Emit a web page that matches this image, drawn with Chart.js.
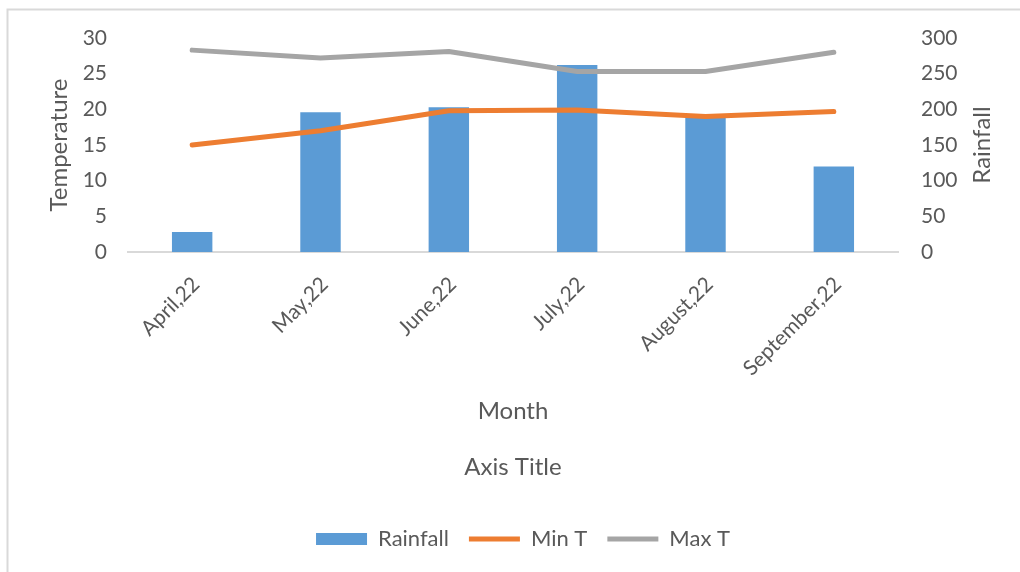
<!DOCTYPE html>
<html>
<head>
<meta charset="utf-8">
<script src="https://cdn.jsdelivr.net/npm/chart.js@4.4.1/dist/chart.umd.min.js"></script>
<style>
  html, body { margin: 0; padding: 0; background: #fff; }
  #wrap { width: 1020px; height: 572px; position: relative; }
</style>
</head>
<body>
<div id="wrap"><canvas id="c" width="1020" height="572"></canvas></div>
<script>
const categories = ['April,22', 'May,22', 'June,22', 'July,22', 'August,22', 'September,22'];
const rainfall = [28, 196, 203, 262, 188, 120];
const minT = [15, 17, 19.8, 19.9, 19, 19.7];
const maxT = [28.3, 27.2, 28.1, 25.3, 25.3, 28];
const tempTicks = [0, 5, 10, 15, 20, 25, 30];
const rainTicks = [0, 50, 100, 150, 200, 250, 300];

const TXT = '#595959';
const FONT = 'Lato, "Open Sans", sans-serif';

const framePlugin = {
  id: 'frame',
  afterLayout(chart) {
    // nudge the legend block to sit where the reference has it
    const l = chart.legend;
    if (l) { l.left += 13; l.right += 13; }
  },
  beforeDraw(chart) {
    const ctx = chart.ctx;
    ctx.save();
    ctx.fillStyle = '#ffffff';
    ctx.fillRect(0, 0, chart.width, chart.height);
    ctx.strokeStyle = '#d9d9d9';
    ctx.lineWidth = 2;
    ctx.beginPath();
    ctx.moveTo(7.5, chart.height);
    ctx.lineTo(7.5, 9.5);
    ctx.lineTo(chart.width, 9.5);
    ctx.stroke();
    ctx.restore();
  },
  afterDraw(chart) {
    // right axis title, reading bottom-to-top like the reference
    const ctx = chart.ctx;
    const a = chart.chartArea;
    ctx.save();
    ctx.fillStyle = TXT;
    ctx.font = '24px ' + FONT;
    ctx.textAlign = 'center';
    ctx.textBaseline = 'middle';
    ctx.translate(982, (a.top + a.bottom) / 2);
    ctx.rotate(-Math.PI / 2);
    ctx.fillText('Rainfall', 0, 0);
    ctx.restore();
  }
};

new Chart(document.getElementById('c'), {
  type: 'bar',
  data: {
    labels: categories,
    datasets: [
      {
        label: 'Rainfall',
        data: rainfall,
        yAxisID: 'y1',
        backgroundColor: '#5B9BD5',
        borderWidth: 0,
        barPercentage: 0.315,
        categoryPercentage: 1,
        order: 1
      },
      {
        type: 'line',
        label: 'Min T',
        data: minT,
        yAxisID: 'y',
        borderColor: '#ED7D31',
        backgroundColor: '#ED7D31',
        borderWidth: 5,
        borderCapStyle: 'round',
        borderJoinStyle: 'round',
        pointRadius: 0,
        tension: 0,
        order: 0
      },
      {
        type: 'line',
        label: 'Max T',
        data: maxT,
        yAxisID: 'y',
        borderColor: '#A5A5A5',
        backgroundColor: '#A5A5A5',
        borderWidth: 5,
        borderCapStyle: 'round',
        borderJoinStyle: 'round',
        pointRadius: 0,
        tension: 0,
        order: 0
      }
    ]
  },
  options: {
    responsive: false,
    animation: false,
    devicePixelRatio: 1,
    layout: { padding: { left: 0, right: 0, top: 38, bottom: 12 } },
    plugins: {
      tooltip: { enabled: false },
      title: { display: false },
      legend: {
        position: 'bottom',
        labels: {
          color: TXT,
          font: { family: FONT, size: 22 },
          usePointStyle: true,
          pointStyleWidth: 51,
          boxHeight: 12,
          padding: 20,
          sort: (a, b) => a.datasetIndex - b.datasetIndex,
          generateLabels(chart) {
            const items = Chart.defaults.plugins.legend.labels.generateLabels(chart);
            items.forEach(it => {
              it.pointStyle = it.datasetIndex === 0 ? 'rect' : 'line';
              if (it.datasetIndex === 0) { it.lineWidth = 0; }
            });
            return items;
          }
        }
      }
    },
    scales: {
      x: {
        grid: { display: false, drawTicks: false },
        border: { display: true, color: '#d9d9d9', width: 2 },
        afterFit(a) { a.height = 256; },
        ticks: {
          color: TXT,
          font: { family: FONT, size: 21 },
          minRotation: 45,
          maxRotation: 45,
          labelOffset: 4,
          padding: 20
        },
        title: {
          display: true,
          text: ['Month', '', 'Axis Title'],
          color: TXT,
          font: { family: FONT, size: 24, lineHeight: 1.1667 },
          padding: { top: 14, bottom: 27 }
        }
      },
      y: {
        position: 'left',
        min: 0,
        max: 30,
        afterBuildTicks(axis) { axis.ticks = tempTicks.map(v => ({ value: v })); },
        afterFit(a) { a.width = 128; },
        grid: { display: false, drawTicks: false },
        border: { display: false },
        ticks: {
          color: TXT,
          font: { family: FONT, size: 21 },
          padding: 21
        },
        title: {
          display: true,
          text: 'Temperature',
          color: TXT,
          font: { family: FONT, size: 24 },
          padding: { top: 45, bottom: 0 }
        }
      },
      y1: {
        position: 'right',
        min: 0,
        max: 300,
        afterBuildTicks(axis) { axis.ticks = rainTicks.map(v => ({ value: v })); },
        afterFit(a) { a.width = 122; },
        grid: { display: false, drawTicks: false },
        border: { display: false },
        ticks: {
          color: TXT,
          font: { family: FONT, size: 21 },
          padding: 23
        },
        title: { display: false, text: 'Rainfall' }
      }
    }
  },
  plugins: [framePlugin]
});
</script>
</body>
</html>
